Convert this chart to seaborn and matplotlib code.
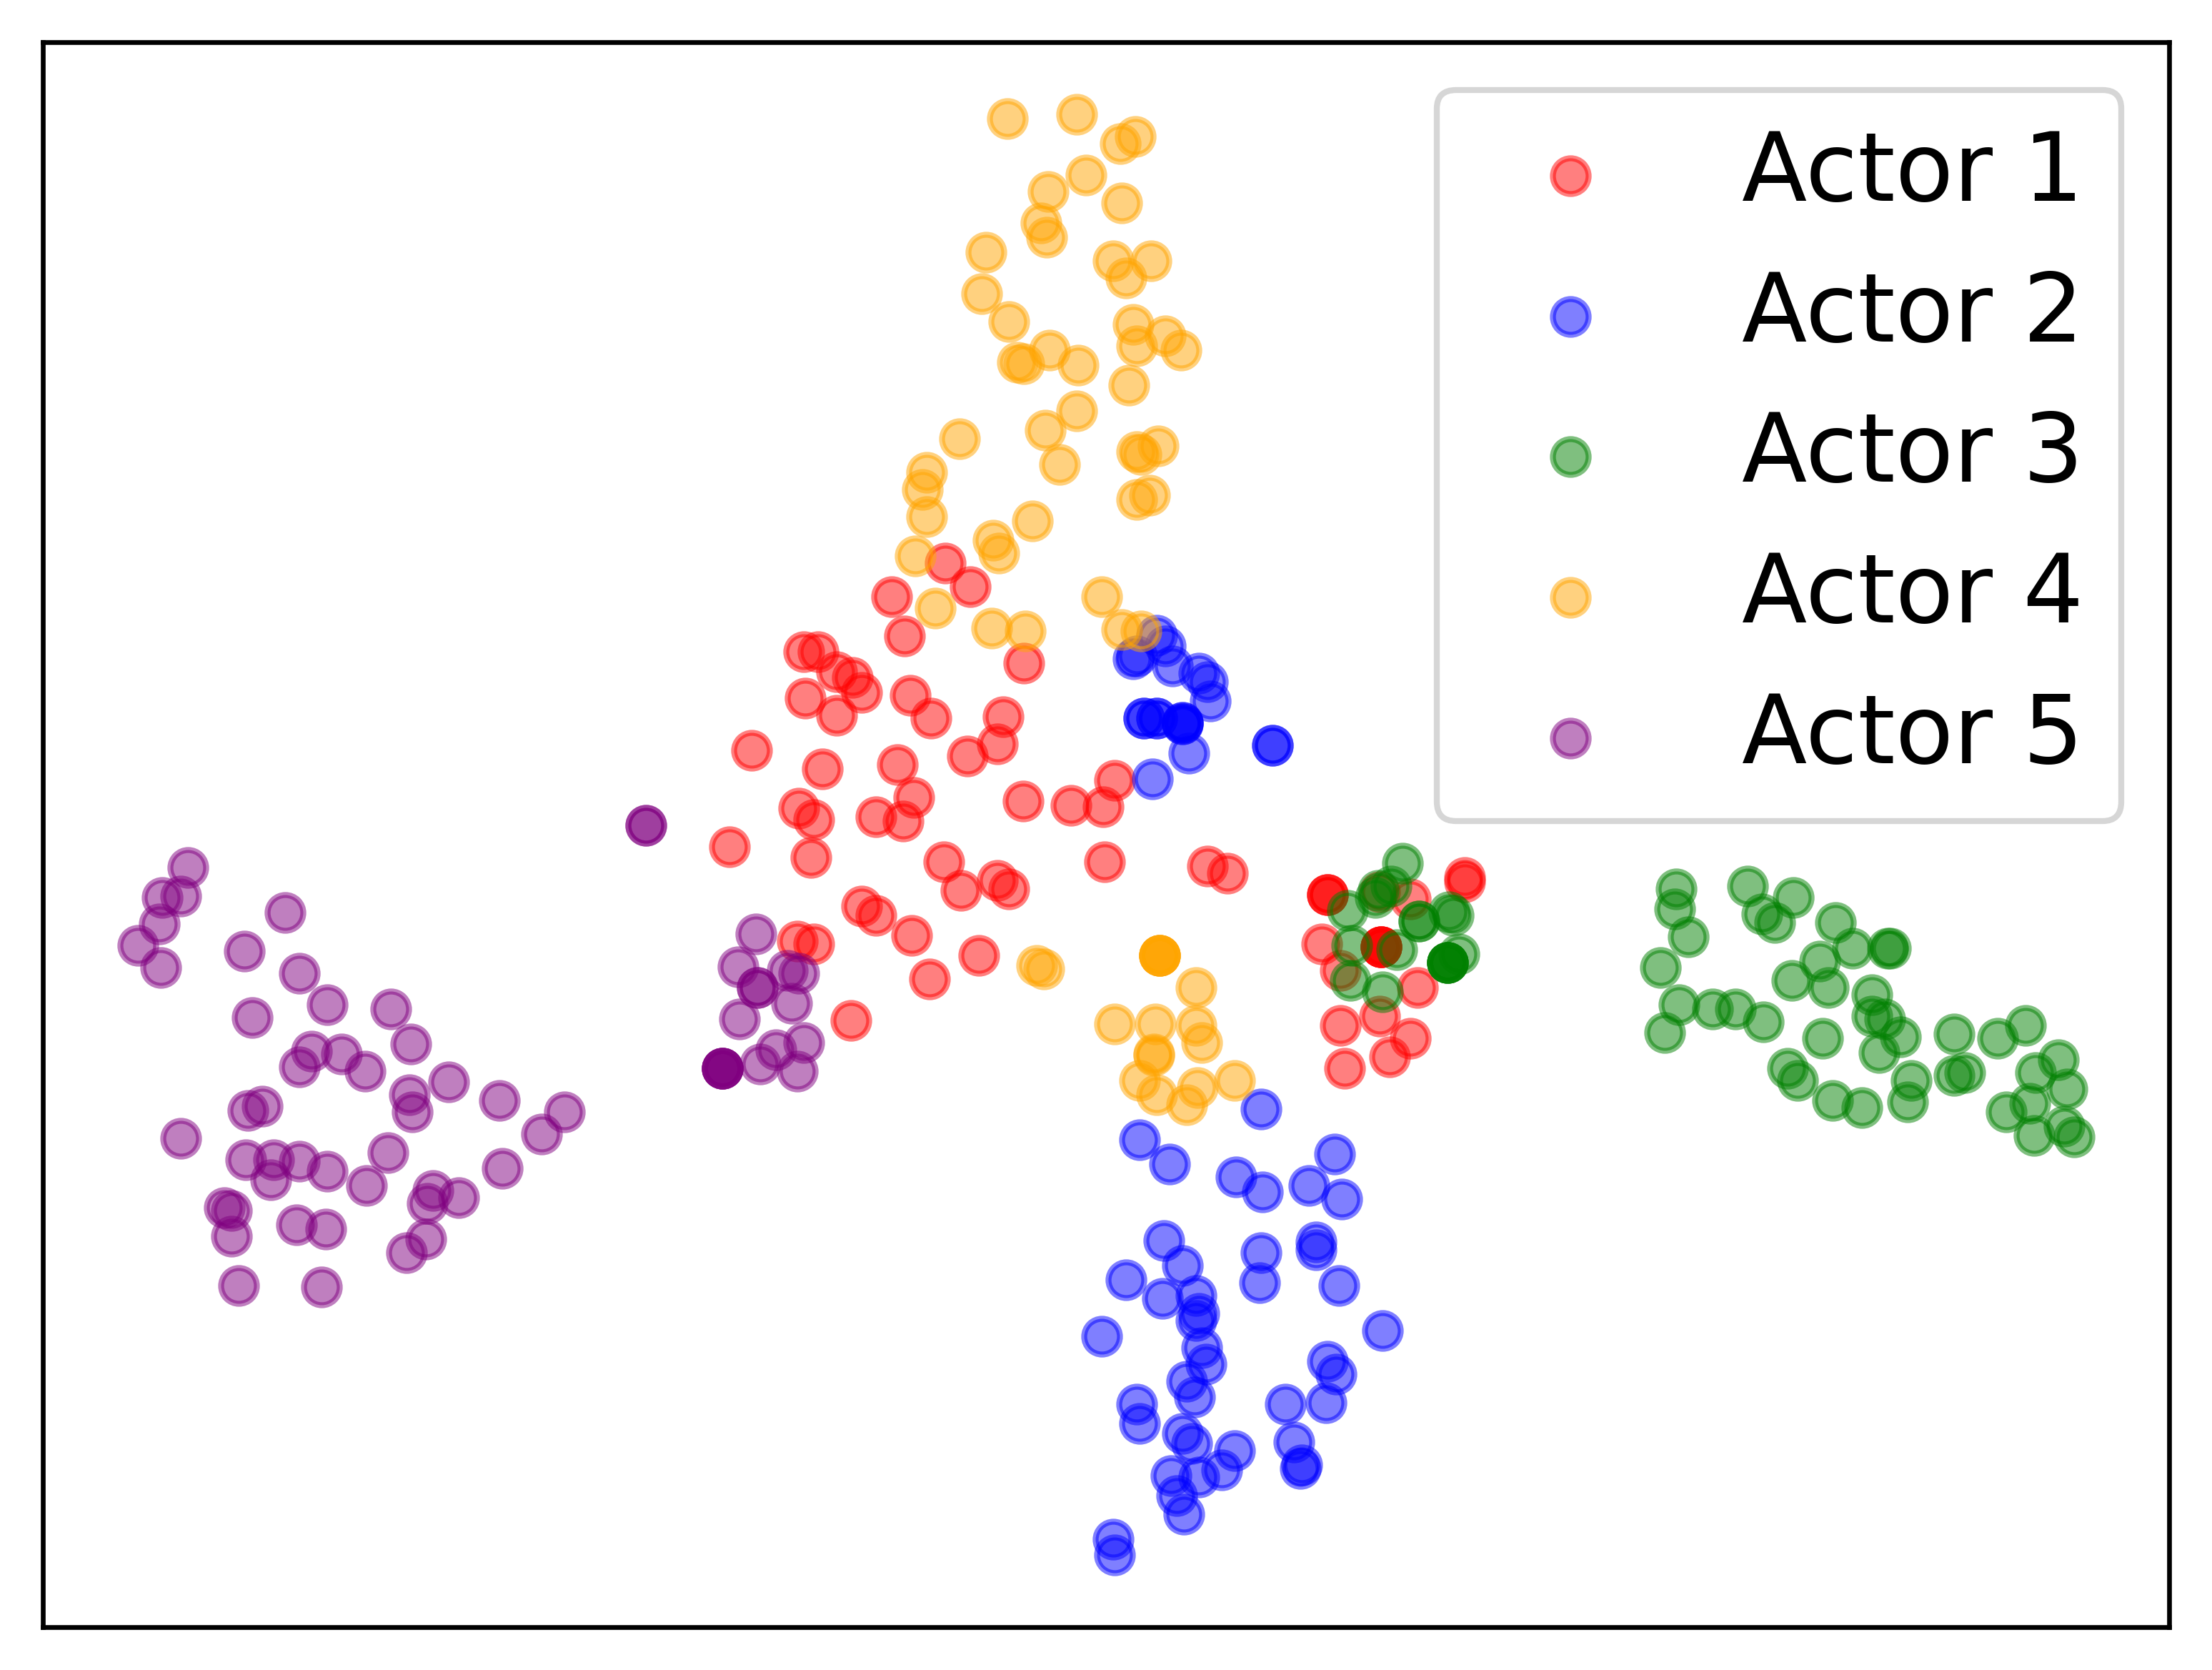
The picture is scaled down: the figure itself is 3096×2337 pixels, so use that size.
import matplotlib
matplotlib.use("Agg")
import matplotlib.pyplot as plt
import seaborn as sns

# Coordinates (horizontal, vertical position on a 1568-wide view)
actor1_x = [670,688,632,641,570,580,726,593,604,611,571,645,593,660,711,707,686,533,583,636,648,790,725,759,782,566,577,621,640,517,575,669,783,856,870,707,715,681,611,621,646,565,577,694,659,603,
            941,941,941,1038,1038,1000,978,937,979,979,979,979,979,950,1005,978,950,1000,985,953]
actor1_y = [399,416,423,451,462,462,470,476,480,491,495,493,507,509,508,527,536,532,545,542,565,553,568,571,572,573,581,579,582,600,608,611,611,614,619,624,630,631,642,649,663,667,669,677,694,723,
            634,634,634,622,625,637,632,669,671,671,671,671,671,688,700,720,727,736,749,757]

actor2_x = [820,826,803,806,831,850,856,858,811,811,820,820,838,838,838,838,902,902,843,817,
            894,808,829,946,876,895,928,951,825,933,933,894,838,798,893,949,824,848,850,848,781,980,852,941,855,947,841,847,806,911,940,808,838,845,917,875,923,922,866,830,850,834,839,789,790]
actor2_y = [450,458,467,465,472,477,483,497,509,509,509,509,512,512,513,513,528,528,534,552,
            786,808,825,818,834,845,840,850,879,880,886,888,897,907,909,911,920,918,931,936,947,943,955,965,967,974,979,990,995,995,994,1009,1016,1023,1022,1028,1038,1041,1042,1046,1047,1060,1073,1091,1102]

actor3_x = [994,986,977,975,955,1027,1030,1006,1006,958,990,1034,1026,1026,1026,1026,1026,980,957,
            1188,1187,1197,1177,1239,1271,1249,1258,1301,1313,1338,1340,1290,1270,1296,1327,1190,1214,1230,1250,1327,1336,1347,1180,1292,1332,1385,1416,1436,1459,1443,1267,1274,1355,1385,1393,1299,1320,1352,1465,1439,1422,1442,1463,1470]
actor3_y = [612,628,631,636,645,646,649,653,653,670,673,676,682,682,682,682,682,703,695,
            630,644,664,686,628,636,648,654,654,672,672,672,681,695,700,705,712,715,715,724,720,722,735,732,736,746,733,736,727,751,760,757,766,766,762,760,780,785,781,772,782,788,805,798,806]

actor4_x = [714,763,805,794,770,743,795,738,742,699,789,816,798,696,803,715,826,806,837,744,721,726,764,800,763,741,680,821,806,809,751,657,654,815,806,657,732,704,708,649,663,781,703,727,795,809,
            822,822,822,822,822,735,740,848,790,819,848,852,818,818,808,875,820,849,841]
actor4_y = [84,81,97,102,124,136,144,158,168,179,185,185,197,208,230,228,238,245,248,248,257,258,259,273,291,305,311,316,320,322,329,335,347,351,354,366,369,383,392,394,431,423,445,447,446,447,
            677,677,677,677,677,684,687,700,726,726,727,739,747,748,766,766,776,771,783]

actor5_x = [458,458,133,128,115,113,98,114,202,173,212,232,179,277,291,221,242,212,259,318,290,292,354,186,176,400,384,128,275,174,194,212,232,192,356,260,307,325,303,159,164,164,210,231,302,288,169,228,
            536,523,558,566,537,537,561,524,570,550,539,565,512,512,512,512,512]
actor5_y = [585,585,615,635,636,655,670,686,647,674,690,712,721,715,740,745,747,756,759,767,776,788,780,784,787,788,804,807,817,822,822,823,830,836,828,840,844,849,853,856,858,876,868,871,878,888,911,912,
            662,685,688,690,700,700,711,722,739,744,754,759,757,757,757,757,757]

actor_names = ["Actor 1", "Actor 2", "Actor 3", "Actor 4", "Actor 5"]
actor_colors = ["red", "blue", "green", "orange", "purple"]
actor_xs = [actor1_x, actor2_x, actor3_x, actor4_x, actor5_x]
actor_ys = [actor1_y, actor2_y, actor3_y, actor4_y, actor5_y]

sns.set_style("white")
plt.rcParams["font.family"] = ["DejaVu Sans"]
plt.rcParams["text.color"] = "black"
plt.rcParams["axes.edgecolor"] = "black"
plt.rcParams["axes.linewidth"] = 0.8

W, H = 3096, 2337
fig = plt.figure(figsize=(W / 600, H / 600), dpi=600)
ax = fig.add_axes([60 / W, 1 - 2277 / H, (3036 - 60) / W, (2277 - 59) / H])

for name, color, xs, ys in zip(actor_names, actor_colors, actor_xs, actor_ys):
    sns.scatterplot(x=xs, y=ys, ax=ax, color=color, alpha=0.5, s=36,
                    edgecolor="face", linewidth=1.0, label=name)

ax.set_xlim(30.4, 1537.6)
ax.set_ylim(1153.2, 29.9)
ax.set_xticks([])
ax.set_yticks([])
for sp in ax.spines.values():
    sp.set_visible(True)
    sp.set_color("black")
    sp.set_linewidth(0.8)

ax.legend(loc="upper right", fontsize=16, frameon=True, fancybox=True,
          framealpha=0.8, edgecolor="0.8", facecolor="white", labelcolor="black")

fig.savefig("out.png", dpi=600)
